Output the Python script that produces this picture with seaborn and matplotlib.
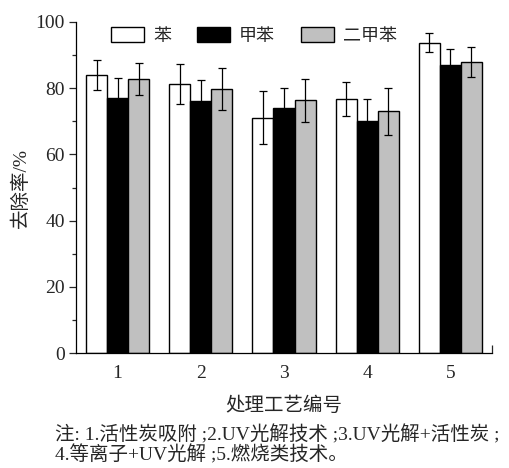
import numpy as np
import pandas as pd
import matplotlib
matplotlib.use("Agg")
import matplotlib.pyplot as plt
import seaborn as sns

# ---- data ----
processes = ["1", "2", "3", "4", "5"]
series = ["苯", "甲苯", "二甲苯"]
benzene = [84.0, 81.2, 71.1, 76.8, 93.8]
toluene = [76.9, 76.0, 74.0, 70.2, 87.0]
xylene = [82.7, 79.8, 76.3, 73.0, 87.9]
benzene_err = [4.5, 6.1, 8.0, 5.1, 2.9]
toluene_err = [6.3, 6.5, 6.1, 6.5, 4.7]
xylene_err = [4.8, 6.4, 6.5, 7.2, 4.4]
colors = ["#ffffff", "#000000", "#c0c0c0"]
note_lines = ["注: 1.活性炭吸附 ;2.UV光解技术 ;3.UV光解+活性炭 ;",
              "4.等离子+UV光解 ;5.燃烧类技术。"]

sns.set_theme(style="ticks")
fam = ["Liberation Serif", "Noto Sans CJK SC"]
plt.rcParams["font.family"] = fam
plt.rcParams["axes.unicode_minus"] = False

rows = []
for s, vals, errs in zip(series, [benzene, toluene, xylene],
                         [benzene_err, toluene_err, xylene_err]):
    for p, v, e in zip(processes, vals, errs):
        rows.append({"process": p, "series": s, "value": v, "err": e})
df = pd.DataFrame(rows)

fig = plt.figure(figsize=(5.09, 4.68), dpi=100)
ax = fig.add_axes([76 / 509, 1 - 353 / 468, (492 - 76) / 509, (353 - 22) / 468])

sns.barplot(data=df, x="process", y="value", hue="series", order=processes,
            hue_order=series, palette=colors, errorbar=None, width=0.76,
            edgecolor="black", linewidth=1.0, ax=ax, saturation=1)

# error bars at the bar centres
for container, s in zip(ax.containers, series):
    sub = df[df["series"] == s].set_index("process").loc[processes]
    xs = [b.get_x() + b.get_width() / 2 for b in container]
    ax.errorbar(xs, sub["value"].values, yerr=sub["err"].values, fmt="none",
                ecolor="black", elinewidth=0.9, capsize=3, capthick=0.9, zorder=5)

ax.set_ylim(0, 100)
ax.set_xlim(-0.5, 4.5)
ax.set_yticks([0, 20, 40, 60, 80, 100])
ax.set_yticks([10, 30, 50, 70, 90], minor=True)
ax.set_xticks([4.5], minor=True)
ax.tick_params(axis="y", which="major", direction="out", length=5, width=0.9,
               labelsize=14, pad=3)
ax.tick_params(axis="y", which="minor", direction="out", length=3, width=0.9)
ax.tick_params(axis="x", which="major", length=0, labelsize=14, pad=9)
ax.tick_params(axis="x", which="minor", direction="in", length=6, width=0.9)
for sp in ["top", "right"]:
    ax.spines[sp].set_visible(False)
for sp in ["left", "bottom"]:
    ax.spines[sp].set_linewidth(0.9)
    ax.spines[sp].set_color("black")

ax.set_xlabel("处理工艺编号", fontsize=14, labelpad=10)
ax.set_ylabel("去除率/%", fontsize=14, labelpad=4)

leg = ax.legend(loc="upper left", bbox_to_anchor=(0.083, 0.985), ncol=3,
                frameon=False, fontsize=13, handlelength=1.85, handleheight=0.9,
                handletextpad=0.5, columnspacing=1.42, borderpad=0,
                borderaxespad=0)
for h in leg.legend_handles:
    h.set_edgecolor("black")
    h.set_linewidth(1.0)

fig.text(55 / 509, 1 - 435 / 468, note_lines[0], fontsize=14,
         ha="left", va="center", family=fam)
fig.text(55 / 509, 1 - 455 / 468, note_lines[1], fontsize=14,
         ha="left", va="center", family=fam)

fig.savefig("out.png", dpi=100)
